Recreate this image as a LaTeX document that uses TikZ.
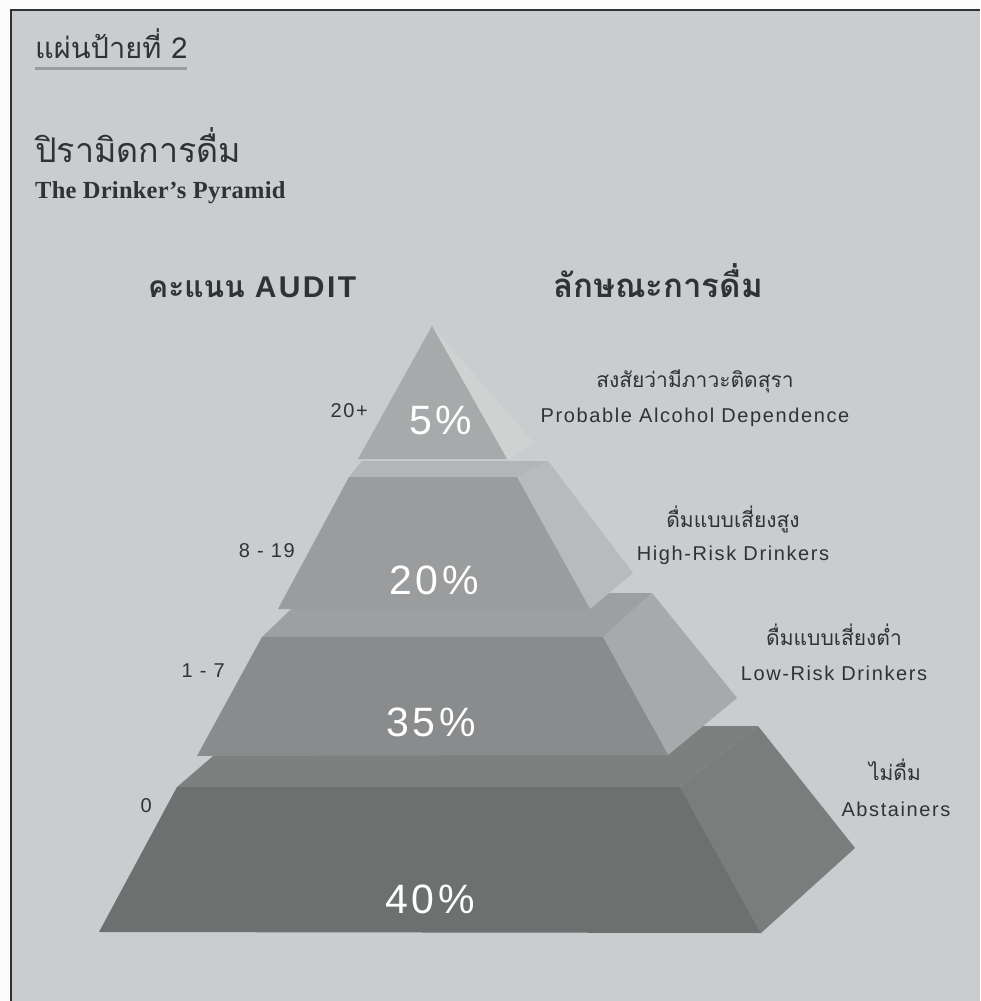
\documentclass[tikz,border=0pt]{standalone}
\usepackage{fontspec}
\setmainfont{Liberation Sans}
\newfontfamily\thaifont[Script=Thai]{Loma}
\newfontfamily\labelfont[LetterSpace=8]{Liberation Sans}
\newfontfamily\pctfont[LetterSpace=9]{Liberation Sans}
\newfontfamily\serifttl[LetterSpace=1]{Liberation Serif}

\definecolor{paper}{HTML}{C9CDCF}
\definecolor{ink}{HTML}{303233}
\definecolor{rule}{HTML}{9A9D9F}
% tier shades: front / top / right
\definecolor{aF}{HTML}{A7AAAB}\definecolor{aR}{HTML}{D0D2D2}
\definecolor{bF}{HTML}{9A9C9D}\definecolor{bT}{HTML}{B3B5B6}\definecolor{bR}{HTML}{B8BABB}
\definecolor{cF}{HTML}{898B8C}\definecolor{cT}{HTML}{9DA0A1}\definecolor{cR}{HTML}{A7A9AA}
\definecolor{dF}{HTML}{6C706F}\definecolor{dT}{HTML}{7C807F}\definecolor{dR}{HTML}{797D7C}

\tikzset{
  face/.style={fill=#1, draw=none},
  lbl/.style={inner sep=0pt, text=ink, font=\labelfont\fontsize{20}{23}\selectfont},
  thlbl/.style={inner sep=0pt, text=ink, font=\thaifont\fontsize{21}{24}\selectfont},
  pct/.style={inner sep=0pt, text=white, font=\pctfont\fontsize{41}{45}\selectfont},
  head/.style={inner sep=0pt, text=ink},
}

\begin{document}
\begin{tikzpicture}[x=1pt,y=-1pt]
\useasboundingbox (0,0) rectangle (980,1001);
\fill[white!95!paper] (0,0) rectangle (980,1001);
\fill[paper] (11,10) rectangle (980,1001);
\draw[ink, line width=1.6pt] (11,1001) -- (11,10) -- (980,10);

% headings
\node[head, anchor=base west, font=\thaifont\fontsize{29}{32}\selectfont] (plate) at (35,58) {แผ่นป้ายที่ 2};
\draw[rule, line width=3pt] (35,68.5) -- (187,68.5);
\node[head, anchor=base west, font=\thaifont\fontsize{34}{38}\selectfont] (thtitle) at (35,162) {ปิรามิดการดื่ม};
\node[head, anchor=base west, font=\serifttl\bfseries\fontsize{24.5}{28}\selectfont] (entitle) at (35,198) {The Drinker’s Pyramid};

\node[head, anchor=base west, font=\thaifont\bfseries\fontsize{30}{33}\selectfont] (score) at (148,297) {คะแนน {\labelfont\bfseries AUDIT}};
\node[head, anchor=base west, font=\thaifont\bfseries\fontsize{33}{36}\selectfont] (kind) at (553,297) {ลักษณะการดื่ม};

% bottom tier
\fill[face=dT] (248,726) -- (758,726) -- (680,787) -- (177,787) -- cycle;
\fill[face=dR] (680,787) -- (758,726) -- (855,848) -- (761,933) -- cycle;
\fill[face=dF] (177,787) -- (680,787) -- (761,933) -- (99,932) -- cycle;
% third tier
\fill[face=cT] (308,593) -- (652,593) -- (603,637) -- (262,637) -- cycle;
\fill[face=cR] (603,637) -- (652,593) -- (737,698) -- (668,755) -- cycle;
\fill[face=cF] (262,637) -- (603,637) -- (668,755) -- (197,756) -- cycle;
% second tier
\fill[face=bT] (362,461) -- (548,461) -- (517,477) -- (349,477) -- cycle;
\fill[face=bR] (517,477) -- (548,461) -- (633,573) -- (590,609) -- cycle;
\fill[face=bF] (349,477) -- (517,477) -- (590,609) -- (278,609) -- cycle;
% apex
\fill[face=aR] (432,326) -- (534,443) -- (508,460) -- cycle;
\fill[face=aF] (432,326) -- (507,459) -- (358,459) -- cycle;

% percentages
\node[pct, anchor=base] (p5)  at (441,434) {5\%};
\node[pct, anchor=base] (p20) at (434,594) {20\%};
\node[pct, anchor=base] (p35) at (431,736) {35\%};
\node[pct, anchor=base] (p40) at (430,913) {40\%};

% AUDIT score ranges
\node[lbl, anchor=base east] (s20) at (368,417) {20+};
\node[lbl, anchor=base east] (s8)  at (295,557) {8 - 19};
\node[lbl, anchor=base east] (s1)  at (225,677) {1 - 7};
\node[lbl, anchor=base east] (s0)  at (152,812) {0};

% drinking patterns
\node[thlbl, anchor=base] (d1th) at (695,387) {สงสัยว่ามีภาวะติดสุรา};
\node[lbl, anchor=base]   (d1en) at (695,422) {Probable Alcohol Dependence};
\node[thlbl, anchor=base] (d2th) at (733,527) {ดื่มแบบเสี่ยงสูง};
\node[lbl, anchor=base]   (d2en) at (733,560) {High-Risk Drinkers};
\node[thlbl, anchor=base] (d3th) at (834,645) {ดื่มแบบเสี่ยงต่ำ};
\node[lbl, anchor=base]   (d3en) at (834,680) {Low-Risk Drinkers};
\node[thlbl, anchor=base] (d4th) at (895,780) {ไม่ดื่ม};
\node[lbl, anchor=base]   (d4en) at (896,816) {Abstainers};
\end{tikzpicture}
\end{document}
